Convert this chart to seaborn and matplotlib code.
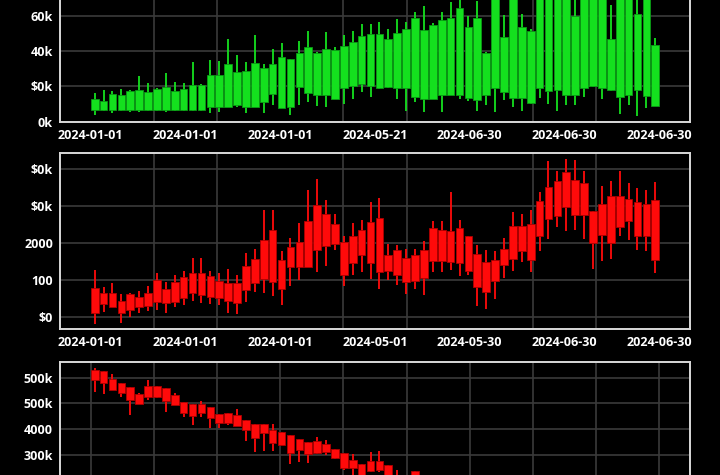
import numpy as np
import matplotlib
matplotlib.use("Agg")
import matplotlib.pyplot as plt
import seaborn as sns

# ----------------------------
# Data
# ----------------------------
# top panel, green candles, values in thousands
top_open = [6.7, 6.5, 6.5, 6.5, 6.5, 6.5, 6.5, 6.5, 6.5, 6.5, 6.5, 6.5, 6.5, 8.2, 8.6, 8.6,
            9.7, 8.6, 8.6, 11.0, 15.6, 8.0, 8.6, 19.6, 16.2, 15.2, 15.2, 13.0, 19.2, 20.0, 21.1, 20.0,
            19.2, 19.6, 19.2, 19.2, 13.9, 13.0, 13.0, 14.9, 15.2, 15.2, 13.3, 12.4, 15.4, 19.2, 17.1, 13.3,
            13.5, 10.5, 19.2, 17.3, 17.7, 15.2, 14.9, 19.2, 20.2, 19.2, 17.7, 13.9, 14.9, 18.1, 14.7, 9.1]
top_close = [12.6, 12.0, 15.6, 15.4, 17.3, 17.7, 17.0, 18.7, 19.6, 17.3, 18.7, 20.6, 20.6, 26.5, 26.5, 32.6,
             28.2, 28.6, 33.1, 30.5, 32.8, 36.6, 35.4, 38.9, 42.1, 38.7, 41.1, 40.6, 42.9, 45.0, 48.8, 49.5,
             49.7, 46.9, 50.3, 52.6, 58.7, 51.8, 54.5, 57.5, 58.5, 64.4, 53.7, 58.7, 38.7, 78.0, 48.2, 82.0,
             53.7, 51.6, 80.0, 76.0, 84.0, 78.0, 60.0, 74.0, 77.0, 81.0, 46.9, 85.0, 79.0, 61.2, 83.0, 43.4]
top_high = [16.2, 18.1, 17.5, 18.7, 18.1, 25.7, 21.7, 19.2, 27.8, 22.3, 21.7, 33.7, 21.5, 34.7, 34.3, 46.9,
            37.7, 34.1, 49.0, 32.6, 41.0, 44.8, 35.6, 45.9, 51.1, 39.6, 50.7, 42.5, 49.3, 51.6, 55.4, 55.4,
            56.4, 52.6, 58.1, 56.4, 62.1, 65.3, 55.8, 62.1, 67.8, 73.0, 59.6, 68.2, 39.6, 84.0, 60.6, 88.0,
            61.0, 52.4, 86.0, 82.0, 90.0, 84.0, 71.0, 80.0, 83.0, 87.0, 65.9, 92.0, 84.0, 71.0, 88.0, 47.2]
top_low = [3.8, 6.1, 5.1, 6.3, 5.3, 5.3, 6.3, 5.9, 5.3, 5.9, 5.9, 6.3, 6.3, 4.8, 5.7, 8.2,
           8.2, 5.1, 8.2, 4.8, 9.7, 7.8, 4.0, 9.5, 10.9, 9.1, 8.6, 12.8, 10.1, 13.0, 16.8, 13.9,
           18.7, 19.2, 13.0, 6.3, 11.0, 5.3, 12.6, 5.7, 14.9, 13.0, 12.0, 5.9, 9.5, 5.7, 12.4, 8.6,
           6.3, 10.1, 13.3, 10.1, 6.3, 9.7, 9.7, 13.9, 19.7, 12.8, 17.3, 4.4, 9.5, 3.4, 7.8, 9.1]

# middle panel, red candles
mid_open = [786, 632, 632, 424, 614, 542, 650, 993, 750, 939, 1066, 1192, 1174, 1111, 966, 921,
            921, 1373, 1553, 2077, 2348, 1535, 1869, 2023, 2592, 3025, 2772, 2510, 2023, 2185, 2330, 2546,
            2664, 1662, 1806, 1589, 1662, 1806, 2384, 2330, 2321, 2402, 2185, 1680, 1472, 1535, 1833, 2447,
            2456, 2501, 3133, 3513, 3657, 3910, 3684, 3612, 2863, 3052, 3260, 3251, 3188, 3088, 3043, 3152]
mid_close = [90, 343, 271, 90, 181, 271, 298, 388, 361, 406, 515, 650, 587, 542, 497, 433,
             379, 722, 903, 1011, 948, 750, 1354, 1336, 1336, 1788, 1914, 1969, 1129, 1445, 1671, 1463,
             1219, 1228, 1138, 939, 975, 1047, 1517, 1499, 1490, 1445, 1237, 795, 668, 975, 1400, 1562,
             1770, 1544, 2185, 2637, 2727, 2953, 2754, 2745, 1987, 2212, 1987, 2420, 2592, 2185, 2167, 1535]
mid_high = [1264, 795, 903, 614, 650, 704, 831, 1192, 948, 1129, 1246, 1580, 1580, 1246, 1174, 1300,
            1129, 1707, 1824, 2890, 2890, 1779, 2113, 2528, 3431, 3720, 3161, 2781, 2167, 2528, 2619, 3097,
            3206, 1969, 1941, 1833, 1833, 2032, 2592, 2574, 3359, 2601, 2185, 1941, 1806, 1779, 2122, 2817,
            2781, 2872, 3359, 4217, 3946, 4271, 4226, 3946, 2863, 3531, 3657, 3928, 3612, 3477, 3431, 3639]
mid_low = [-208, 135, 253, -181, 0, 90, 163, 181, 90, 271, 316, 433, 361, 334, 316, 90,
           63, 388, 677, 650, 560, 316, 831, 993, 1336, 1219, 1373, 1806, 831, 1120, 1219, 1011,
           740, 993, 858, 605, 740, 587, 1210, 1219, 1264, 1102, 1129, 289, 199, 488, 1057, 1237,
           1490, 1219, 1761, 2095, 2411, 2321, 2330, 2095, 1300, 1508, 1553, 2185, 2059, 1806, 1761, 1192]

# bottom panel, red candles (only the part inside the picture)
bot_open = [514.9, 513.6, 497.4, 490.3, 481.2, 467.5, 483.8, 484.4, 479.2, 466.2, 453.2, 448.0, 448.0,
            443.5, 428.6, 431.8, 427.3, 417.5, 409.7, 409.1, 398.0, 394.8, 388.3, 379.9, 374.0, 376.6,
            370.8, 360.4, 352.6, 338.9, 331.2, 337.6, 337.6, 329.9, 300.0, 305.0, 318.2]
bot_close = [495.5, 489.0, 476.0, 469.5, 456.5, 448.0, 463.0, 461.7, 455.2, 446.7, 430.5, 426.0, 430.5,
             420.8, 411.0, 412.3, 405.8, 398.0, 381.8, 391.6, 372.1, 368.8, 353.9, 359.1, 351.3, 352.6,
             354.5, 344.1, 324.7, 323.4, 310.4, 318.2, 320.1, 310.4, 290.0, 292.0, 300.0]
bot_high = [518.2, 513.6, 506.5, 490.3, 481.2, 469.5, 495.5, 484.4, 479.2, 470.8, 453.2, 448.0, 455.2,
            443.5, 428.6, 431.8, 439.0, 417.5, 409.7, 410.0, 409.1, 394.8, 388.3, 379.9, 374.0, 385.1,
            378.6, 360.4, 352.6, 350.6, 331.2, 355.8, 357.1, 329.9, 320.1, 310.0, 318.2]
bot_low = [472.7, 467.5, 476.0, 463.0, 427.3, 448.0, 456.5, 459.7, 433.8, 446.7, 424.0, 407.8, 424.0,
           401.3, 402.6, 407.8, 405.8, 376.6, 355.8, 357.1, 357.1, 368.8, 331.2, 335.1, 333.1, 350.6,
           350.0, 341.5, 320.1, 310.4, 303.9, 315.6, 316.9, 304.0, 280.0, 285.0, 290.0]

top_xlabels = ["2024-01-01", "2024-01-01", "2024-01-01", "2024-05-21", "2024-06-30", "2024-06-30", "2024-06-30"]
mid_xlabels = ["2024-01-01", "2024-01-01", "2024-01-01", "2024-05-01", "2024-05-30", "2024-06-30", "2024-06-30"]

# only the ticks that fall inside the picture
top_yticks = [0, 20, 40, 60]
top_ylabels = ["0k", "$0k", "40k", "60k"]
mid_yticks = [0, 1000, 2000, 3000, 4000]
mid_ylabels = ["$0", "100", "2000", "$0k", "$0k"]
bot_yticks = [500, 450, 400, 350]
bot_ylabels = ["500k", "500k", "4000", "300k"]

# ----------------------------
# Style
# ----------------------------
sns.set_theme(style="dark", rc={
    "figure.facecolor": "black",
    "axes.facecolor": "black",
    "axes.edgecolor": "#d9d9d9",
    "axes.linewidth": 1.4,
    "grid.color": "#3a3a3a",
    "grid.linewidth": 1.2,
    "xtick.color": "white",
    "ytick.color": "white",
    "text.color": "white",
})
plt.rcParams["font.family"] = ["Open Sans", "DejaVu Sans"]

GREEN = "#14e01e"
RED = "#ff0a0a"

n = len(top_open)
slot_lo, slot_hi = -0.45, n - 1 + 0.45
pad = 3.45

fig = plt.figure(figsize=(7.2, 4.75), dpi=100)
# panels partly run past the picture edge, as in the reference crop
ax_top = fig.add_axes([0.0833, 0.7438, 0.875, 0.3716])
ax_mid = fig.add_axes([0.0833, 0.3074, 0.875, 0.3705])
ax_bot = fig.add_axes([0.0833, -0.1316, 0.875, 0.3705])


def candles(ax, o, c, h, l, color, edge):
    o, c, h, l = map(np.asarray, (o, c, h, l))
    x = np.arange(len(o))
    lo = np.minimum(o, c)
    ax.vlines(x, l, h, color=color, lw=1.3, zorder=2)
    ax.bar(x, np.abs(c - o), bottom=lo, width=0.86, color=color,
           edgecolor=edge, linewidth=0.6, zorder=3)


def style(ax, yticks, ylabels, ylim, xlabels):
    ax.set_xlim(slot_lo - pad, slot_hi + pad)
    ax.set_ylim(*ylim)
    ax.set_yticks(yticks)
    ax.set_yticklabels(ylabels)
    if xlabels:
        ax.set_xticks(np.linspace(slot_lo, slot_hi, len(xlabels)))
        ax.set_xticklabels(xlabels)
    else:
        ax.set_xticks([])
    ax.set_xticks(np.linspace(slot_lo, slot_hi, 10), minor=True)
    ax.grid(False)
    ax.grid(True, axis="y", which="major")
    ax.grid(True, axis="x", which="minor")
    ax.tick_params(axis="both", which="both", length=0, labelsize=9)
    ax.tick_params(axis="y", pad=5)
    ax.tick_params(axis="x", pad=5)
    for lab in ax.get_xticklabels() + ax.get_yticklabels():
        lab.set_fontweight("bold")
    for sp in ax.spines.values():
        sp.set_visible(True)
        sp.set_zorder(4)


candles(ax_top, top_open, top_close, top_high, top_low, GREEN, "#0b9a16")
style(ax_top, top_yticks, top_ylabels, (0, 100), top_xlabels)

candles(ax_mid, mid_open, mid_close, mid_high, mid_low, RED, "#b00000")
style(ax_mid, mid_yticks, mid_ylabels, (-332, 4420), mid_xlabels)

candles(ax_bot, bot_open, bot_close, bot_high, bot_low, RED, "#b00000")
style(ax_bot, bot_yticks, bot_ylabels, (188.8, 531.6), None)

fig.savefig("out.png", dpi=100, facecolor="black")
